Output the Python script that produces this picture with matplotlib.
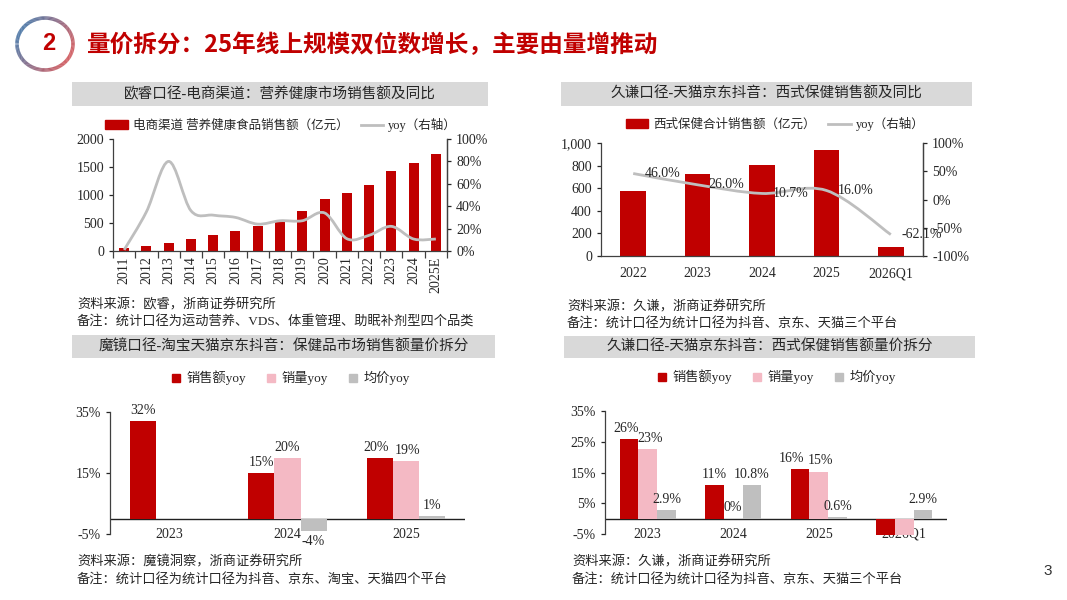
import numpy as np
import matplotlib
matplotlib.use('Agg')
import matplotlib.pyplot as plt
from matplotlib.path import Path
from matplotlib.patches import PathPatch, Rectangle, Patch
from matplotlib.lines import Line2D
from matplotlib.collections import LineCollection
from matplotlib.ticker import FuncFormatter

plt.rcParams['font.family'] = ['Liberation Serif', 'Noto Sans CJK SC']
plt.rcParams['axes.unicode_minus'] = False

W, H = 1067, 600
RED = '#C00000'
PINK = '#F4B9C4'
GRAY = '#BFBFBF'
LINE_GRAY = '#BEBEBE'
BAND = '#D9D9D9'
TXT = '#262626'

# ---- data ----
# 欧睿：电商渠道营养健康食品销售额（亿元）及同比
ouro_years = ['2011', '2012', '2013', '2014', '2015', '2016', '2017', '2018',
              '2019', '2020', '2021', '2022', '2023', '2024', '2025E']
ouro_sales = [62, 88, 150, 206, 278, 350, 440, 542, 713, 932, 1036, 1180, 1434, 1578, 1733]
ouro_yoy = [1, 35, 80, 36, 32, 30, 24, 27, 27, 34, 11, 14, 22, 10.7, 10.7]

# 久谦：西式保健合计销售额（亿元）及同比
jq_years = ['2022', '2023', '2024', '2025', '2026Q1']
jq_sales = [576, 727, 807, 941, 80]
jq_yoy = [46.0, 26.0, 10.7, 16.0, -62.1]

# 魔镜：量价拆分
mj_years = ['2023', '2024', '2025']
mj_sales_yoy = [32, 15, 20]
mj_vol_yoy = [np.nan, 20, 19]
mj_price_yoy = [np.nan, -4, 1]
mj_labels = [['32%', '15%', '20%'], ['', '20%', '19%'], ['', '-4%', '1%']]

# 久谦：量价拆分
jq2_years = ['2023', '2024', '2025', '2026Q1']
jq2_sales_yoy = [26, 11, 16, -5.3]
jq2_vol_yoy = [22.6, 0, 15.3, -5.3]
jq2_price_yoy = [2.9, 10.8, 0.6, 2.9]
jq2_labels = [['26%', '11%', '16%', ''], ['23%', '0%', '15%', ''], ['2.9%', '10.8%', '0.6%', '2.9%']]

split_names = ['销售额yoy', '销量yoy', '均价yoy']

fig = plt.figure(figsize=(W / 100, H / 100), dpi=100)

deco = fig.add_axes([0, 0, 1, 1])
deco.set_xlim(0, W)
deco.set_ylim(H, 0)
deco.axis('off')


def px_axes(x0, y0, x1, y1):
    return fig.add_axes([x0 / W, 1 - y1 / H, (x1 - x0) / W, (y1 - y0) / H])


def smooth_path(x, y):
    # excel-like smoothed line: catmull-rom turned into cubic beziers
    x = np.asarray(x, float)
    y = np.asarray(y, float)
    n = len(x)
    verts = [(x[0], y[0])]
    codes = [Path.MOVETO]
    for i in range(n - 1):
        p0 = max(i - 1, 0)
        p3 = min(i + 2, n - 1)
        c1 = (x[i] + (x[i + 1] - x[p0]) / 6, y[i] + (y[i + 1] - y[p0]) / 6)
        c2 = (x[i + 1] - (x[p3] - x[i]) / 6, y[i + 1] - (y[p3] - y[i]) / 6)
        verts += [c1, c2, (x[i + 1], y[i + 1])]
        codes += [Path.CURVE4] * 3
    return Path(verts, codes)


def band(x0, y0, x1, y1, text):
    deco.add_patch(Rectangle((x0, y0), x1 - x0, y1 - y0, color=BAND, lw=0))
    deco.text((x0 + x1) / 2, (y0 + y1) / 2, text, ha='center', va='center',
              fontsize=10.5, color=TXT, fontweight='light')


def note(x, y, text):
    deco.text(x, y, text, ha='left', va='center', fontsize=9.5, color=TXT,
              fontweight='light')


def style_axes(ax):
    for s in ax.spines.values():
        s.set_color('#404040')
        s.set_linewidth(0.9)
    ax.tick_params(labelsize=10, colors=TXT, direction='out', length=3, width=0.9)


# ---- header ----
theta = np.linspace(0, 2 * np.pi, 200)
cx, cy, rx, ry = 45, 44, 28, 26
pts = np.column_stack([cx + rx * np.cos(theta), cy - ry * np.sin(theta)])
segs = np.stack([pts[:-1], pts[1:]], axis=1)
t = (1 + np.cos(theta[:-1] - np.radians(150))) / 2
blue = np.array([0.24, 0.42, 0.62])
red = np.array([0.80, 0.30, 0.32])
cols = [tuple(red + (blue - red) * v) for v in t]
deco.add_collection(LineCollection(segs, colors=cols, linewidths=2.6))
deco.text(49, 44, '2', ha='center', va='center', fontsize=17, fontweight='bold',
          color=RED, family='Liberation Sans')
deco.text(87, 45, '量价拆分：25年线上规模双位数增长，主要由量增推动', ha='left', va='center',
          fontsize=17, fontweight='bold', color=RED, family=['Noto Sans CJK SC'])
deco.text(1048, 571, '3', ha='center', va='center', fontsize=11, color='#333333',
          family='Liberation Sans')

# ---- top-left ----
band(72, 82, 488, 106, '欧睿口径-电商渠道：营养健康市场销售额及同比')
ax = px_axes(113, 139, 447, 251)
style_axes(ax)
xs = np.arange(len(ouro_years))
ax.bar(xs, ouro_sales, width=0.45, color=RED, zorder=2)
ax.set_xlim(-0.5, len(ouro_years) - 0.5)
ax.set_ylim(0, 2000)
ax.set_yticks(range(0, 2001, 500))
ax.set_xticks(xs)
ax.set_xticklabels(ouro_years, rotation=90)
ax.set_xticks(np.arange(-0.5, len(ouro_years)), minor=True)
ax.tick_params(axis='x', which='major', length=0, pad=4)
ax.tick_params(axis='x', which='minor', length=5, width=0.9, color='#404040')
ax.spines['top'].set_visible(False)
ax2 = ax.twinx()
style_axes(ax2)
for s in ('top', 'left', 'bottom'):
    ax2.spines[s].set_visible(False)
ax2.set_ylim(0, 100)
ax2.set_yticks(range(0, 101, 20))
ax2.yaxis.set_major_formatter(FuncFormatter(lambda v, p: f'{v:.0f}%'))
ax2.add_patch(PathPatch(smooth_path(xs, ouro_yoy), fill=False, edgecolor=LINE_GRAY, lw=2))
fig.legend([Patch(color=RED), Line2D([], [], color=LINE_GRAY, lw=2)],
           ['电商渠道 营养健康食品销售额（亿元）', 'yoy（右轴）'],
           loc='center', bbox_to_anchor=(281 / W, 1 - 125 / H), ncol=2, frameon=False,
           fontsize=9, handlelength=1.8, handleheight=0.7, handletextpad=0.4,
           columnspacing=1.0, labelcolor=TXT)
note(77, 305, '资料来源：欧睿，浙商证券研究所')
note(77, 322, '备注：统计口径为运动营养、VDS、体重管理、助眠补剂型四个品类')

# ---- top-right ----
band(561, 82, 972, 106, '久谦口径-天猫京东抖音：西式保健销售额及同比')
ax = px_axes(601, 143, 923, 256)
style_axes(ax)
xs = np.arange(len(jq_years))
ax.bar(xs, jq_sales, width=0.4, color=RED, zorder=2)
ax.set_xlim(-0.5, len(jq_years) - 0.5)
ax.set_ylim(0, 1000)
ax.set_yticks(range(0, 1001, 200))
ax.yaxis.set_major_formatter(FuncFormatter(lambda v, p: f'{v:,.0f}'))
ax.set_xticks(xs)
ax.set_xticklabels(jq_years)
ax.tick_params(axis='x', length=0, pad=8)
ax.spines['top'].set_visible(False)
ax2 = ax.twinx()
style_axes(ax2)
for s in ('top', 'left', 'bottom'):
    ax2.spines[s].set_visible(False)
ax2.set_ylim(-100, 100)
ax2.set_yticks(range(-100, 101, 50))
ax2.yaxis.set_major_formatter(FuncFormatter(lambda v, p: f'{v:.0f}%'))
ax2.add_patch(PathPatch(smooth_path(xs, jq_yoy), fill=False, edgecolor=LINE_GRAY, lw=2))
for x, v in zip(xs, jq_yoy):
    ax2.annotate(f'{v:.1f}%', (x, v), xytext=(8, 0), textcoords='offset points',
                 ha='left', va='center', fontsize=10, color=TXT)
fig.legend([Patch(color=RED), Line2D([], [], color=LINE_GRAY, lw=2)],
           ['西式保健合计销售额（亿元）', 'yoy（右轴）'],
           loc='center', bbox_to_anchor=(775 / W, 1 - 124 / H), ncol=2, frameon=False,
           fontsize=9, handlelength=1.8, handleheight=0.7, handletextpad=0.4,
           columnspacing=1.0, labelcolor=TXT)
note(567, 307, '资料来源：久谦，浙商证券研究所')
note(567, 323, '备注：统计口径为统计口径为抖音、京东、天猫三个平台')


# ---- bottom charts ----
def split_chart(box, years, series, labels, yticks, legend_xy, nudge=None):
    nudge = nudge or {}
    ax = px_axes(*box)
    style_axes(ax)
    xs = np.arange(len(years))
    colors = [RED, PINK, GRAY]
    w = 0.22
    for k, (vals, col) in enumerate(zip(series, colors)):
        for x, v, lab in zip(xs, vals, labels[k]):
            if np.isnan(v):
                continue
            xp = x + (k - 1) * w
            ax.bar(xp, v, width=w, color=col, zorder=3, clip_on=False)
            if lab:
                dx = nudge.get((k, x), 0)
                if v >= 0:
                    ax.annotate(lab, (xp, v), xytext=(dx, 3), textcoords='offset points',
                                ha='center', va='bottom', fontsize=10, color=TXT)
                else:
                    ax.annotate(lab, (xp, v), xytext=(dx, -3), textcoords='offset points',
                                ha='center', va='top', fontsize=10, color=TXT)
    ax.set_xlim(-0.5, len(years) - 0.5)
    ax.set_ylim(yticks[0], yticks[-1])
    ax.set_yticks(yticks)
    ax.yaxis.set_major_formatter(FuncFormatter(lambda v, p: f'{v:.0f}%'))
    ax.set_xticks([])
    for s in ('top', 'right', 'bottom'):
        ax.spines[s].set_visible(False)
    ax.axhline(0, color='#202020', lw=1.0, zorder=2)
    for x, yr in zip(xs, years):
        ax.text(x, yticks[0], yr, ha='center', va='center', fontsize=10,
                color=TXT, zorder=1)
    fig.legend([Patch(color=c) for c in colors], split_names, loc='center',
               bbox_to_anchor=(legend_xy[0] / W, 1 - legend_xy[1] / H), ncol=3,
               frameon=False, fontsize=9.5, handlelength=0.6, handleheight=0.6,
               handletextpad=0.5, columnspacing=1.6, labelcolor=TXT)
    return ax


band(72, 335, 495, 358, '魔镜口径-淘宝天猫京东抖音：保健品市场销售额量价拆分')
split_chart((110, 412, 465, 534), mj_years, [mj_sales_yoy, mj_vol_yoy, mj_price_yoy],
            mj_labels, [-5, 15, 35], (291, 378), nudge={(0, 2): -3, (1, 2): 1})
note(77, 562, '资料来源：魔镜洞察，浙商证券研究所')
note(77, 579, '备注：统计口径为统计口径为抖音、京东、淘宝、天猫四个平台')

band(564, 336, 975, 358, '久谦口径-天猫京东抖音：西式保健销售额量价拆分')
split_chart((605, 411, 947, 534), jq2_years, [jq2_sales_yoy, jq2_vol_yoy, jq2_price_yoy],
            jq2_labels, [-5, 5, 15, 25, 35], (777, 377),
            nudge={(0, 2): -6, (1, 2): 1, (0, 0): -2, (1, 0): 2})
note(572, 562, '资料来源：久谦，浙商证券研究所')
note(572, 579, '备注：统计口径为统计口径为抖音、京东、天猫三个平台')

fig.savefig('out.png', dpi=100)
